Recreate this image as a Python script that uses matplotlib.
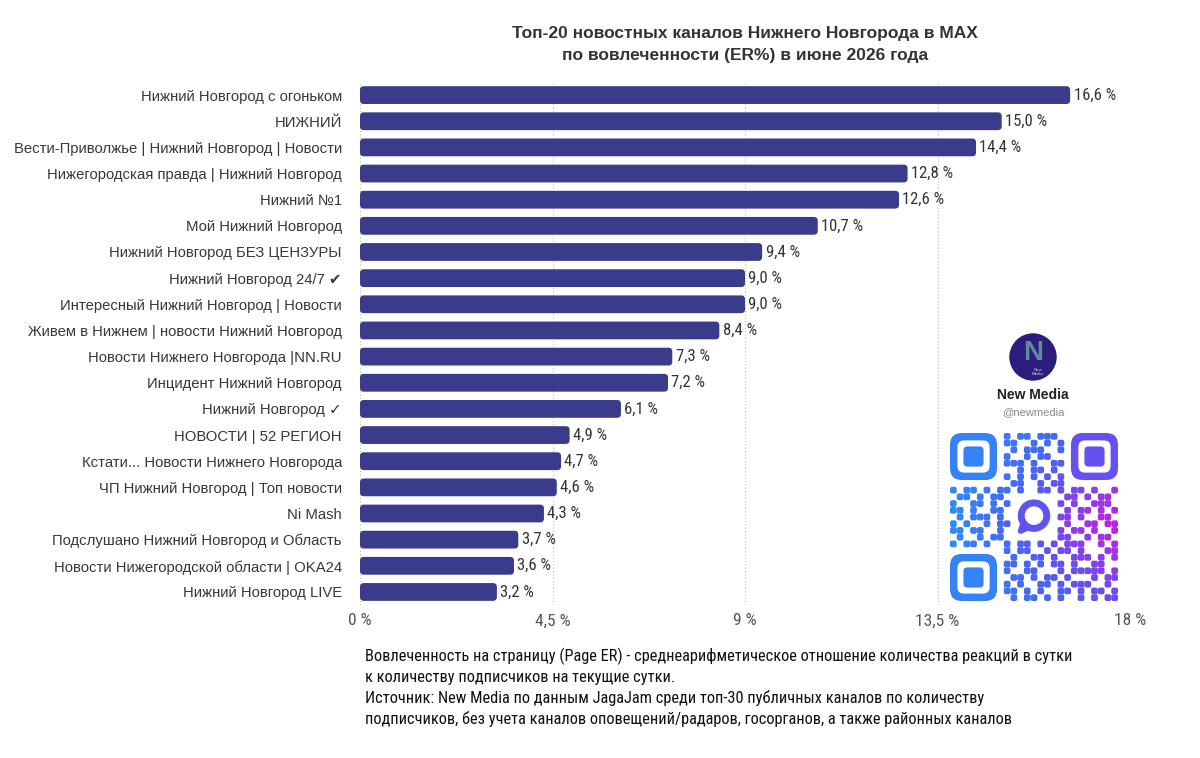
import matplotlib
matplotlib.use("Agg")
import matplotlib.pyplot as plt
from matplotlib.patches import FancyBboxPatch, Circle
from matplotlib.colors import LinearSegmentedColormap
from matplotlib import font_manager

# ---------------- data ----------------
channels = [
    "Нижний Новгород с огоньком",
    "НИЖНИЙ",
    "Вести-Приволжье | Нижний Новгород | Новости",
    "Нижегородская правда | Нижний Новгород",
    "Нижний №1",
    "Мой Нижний Новгород",
    "Нижний Новгород БЕЗ ЦЕНЗУРЫ",
    "Нижний Новгород 24/7 ✔",
    "Интересный Нижний Новгород | Новости",
    "Живем в Нижнем | новости Нижний Новгород",
    "Новости Нижнего Новгорода |NN.RU",
    "Инцидент Нижний Новгород",
    "Нижний Новгород ✓",
    "НОВОСТИ | 52 РЕГИОН",
    "Кстати... Новости Нижнего Новгорода",
    "ЧП Нижний Новгород | Топ новости",
    "Ni Mash",
    "Подслушано Нижний Новгород и Область",
    "Новости Нижегородской области | OKA24",
    "Нижний Новгород LIVE",
]
er_values = [16.6, 15.0, 14.4, 12.8, 12.6, 10.7, 9.4, 9.0, 9.0, 8.4,
             7.3, 7.2, 6.1, 4.9, 4.7, 4.6, 4.3, 3.7, 3.6, 3.2]
x_ticks = [0, 4.5, 9, 13.5, 18]
x_tick_labels = ["0 %", "4,5 %", "9 %", "13,5 %", "18 %"]

title = ("Топ-20 новостных каналов Нижнего Новгорода в MAX\n"
         "по вовлеченности (ER%) в июне 2026 года")
footnote = ("Вовлеченность на страницу (Page ER) - среднеарифметическое отношение количества реакций в сутки\n"
            "к количеству подписчиков на текущие сутки.\n"
            "Источник: New Media по данным JagaJam среди топ-30 публичных каналов по количеству\n"
            "подписчиков, без учета каналов оповещений/радаров, госорганов, а также районных каналов")

# ---------------- fonts ----------------
installed = {f.name for f in font_manager.fontManager.ttflist}
narrow = "Roboto"
for cand in ["Roboto Condensed", "Liberation Sans Narrow", "Open Sans Condensed"]:
    if cand in installed:
        narrow = cand
        break
plt.rcParams['font.family'] = ['Liberation Sans', 'DejaVu Sans']

BAR = "#3b3b8c"
TXT = "#333333"

fig = plt.figure(figsize=(12, 7.58), dpi=100)
fig.patch.set_facecolor("white")
ax = fig.add_axes([0.3, 0.2018, 0.6417, 0.69])

n = len(channels)
ypos = list(range(n))
bh = 0.68
ax.set_xlim(0, 18)
ax.set_ylim(n - 0.5, -0.5)

# rounded bars
px_per_x = 770 / 18.0
px_per_y = 523 / n
aspect = px_per_x / px_per_y
bars = ax.barh(ypos, er_values, height=bh, color="none")
for rect in bars:
    x0, y0 = rect.get_x(), rect.get_y()
    w, h = rect.get_width(), rect.get_height()
    p = FancyBboxPatch((x0, y0), w, h,
                       boxstyle="round,pad=0,rounding_size=0.09",
                       mutation_aspect=aspect,
                       facecolor=BAR, edgecolor="none", zorder=3)
    ax.add_patch(p)

for y, v in zip(ypos, er_values):
    ax.text(v + 0.08, y, f"{v:.1f}".replace(".", ",") + " %",
            va="center", ha="left", fontsize=12, color=TXT,
            family=[narrow, 'DejaVu Sans'], zorder=4)

ax.set_yticks(ypos)
ax.set_yticklabels(channels, fontsize=10.7, color="#383838",
                   family=['Liberation Sans', 'DejaVu Sans'])
ax.tick_params(axis="y", length=0, pad=13)
ax.set_xticks(x_ticks)
ax.set_xticklabels(x_tick_labels, fontsize=12.5, color="#555555",
                   family=[narrow, 'DejaVu Sans'])
ax.tick_params(axis="x", length=0, pad=6)
for s in ax.spines.values():
    s.set_visible(False)
ax.grid(axis="x", linestyle=(0, (1, 2)), color="#bbbbbb", linewidth=0.8, zorder=0)
ax.set_axisbelow(True)

fig.text(745 / 1200, 1 - 44.5 / 758, title, ha="center", va="center",
         fontsize=12.5, fontweight="bold", color=TXT, linespacing=1.6)

fig.text(365 / 1200, 1 - 648 / 758, footnote, ha="left", va="top",
         fontsize=11.8, color="#111111", linespacing=1.39,
         family=[narrow, 'DejaVu Sans'])

# ---------------- logo ----------------
lax = fig.add_axes([1008 / 1200, 1 - 382 / 758, 50 / 1200, 50 / 758])
lax.set_xlim(0, 1); lax.set_ylim(0, 1); lax.axis("off")
lax.add_patch(Circle((0.5, 0.5), 0.46, color="#2b1c7e", transform=lax.transAxes))
lax.text(0.5, 0.58, "N", ha="center", va="center", fontsize=20, fontweight="bold",
         color="#5e8c9c", transform=lax.transAxes)
lax.text(0.6, 0.2, "New\nMedia", ha="center", va="center", fontsize=3.2,
         color="#cfd6f0", linespacing=1.0, transform=lax.transAxes)

fig.text(1033 / 1200, 1 - 395 / 758, "New Media", ha="center", va="center",
         fontsize=10, fontweight="bold", color="#222222")
fig.text(1033 / 1200, 1 - 412 / 758, "@newmedia", ha="center", va="center",
         fontsize=8, color="#888888")

# ---------------- QR code (decorative) ----------------
qr_rows = [
    "........" + "#.##.###." + "........",
    "........" + "##..#.#.#" + "........",
    "........" + ".#.###..#" + "........",
    "........" + "#..#.##.." + "........",
    "........" + "###.#..##" + "........",
    "........" + "..#.##.#." + "........",
    "........" + "#.#.#.#.#" + "........",
    "........" + ".##..#.##" + "........",
    "#.##.#.##.#..##.#.##.#..#",
    ".##.#.##." + "......." + ".##.#.##.",
    "#..##.#.#" + "......." + "#.#..###.",
    "##.#..##." + "......." + ".#.##.#.#",
    ".#.###.#." + "......." + "##.#..##.",
    "#.#..#.##" + "......." + ".#..##.##",
    "##.##..#." + "......." + "#.##.#..#",
    ".#..#.##." + "......." + "##..#.##.",
    "#.##.#..#.##.#.#.###..#.#",
    "........" + "#.##..#.##.#...##",
    "........" + ".#..##.#..###.#.#",
    "........" + "##.#.#.##.#..##..",
    "........" + "#..##...#.#####.#",
    "........" + ".##.#.##.#...#.##",
    "........" + "#.#..##.#.###..#.",
    "........" + "##.#.#..##.#.##.#",
    "........" + ".#.##.#.#..#.#.##",
]
N = 25
cmap = LinearSegmentedColormap.from_list(
    "qr", [(0.0, "#2f8af7"), (0.35, "#4a63f2"), (0.55, "#6c4cef"),
           (0.8, "#9d35e6"), (1.0, "#c41fe0")])

def qcol(c, r):
    t = c / (N - 1) * (1 - 0.5 * abs(r - 13) / 12)
    return cmap(min(max(t, 0), 1))

qax = fig.add_axes([950 / 1200, 1 - 601 / 758, 168 / 1200, 168 / 758])
qax.set_xlim(0, N); qax.set_ylim(N, 0); qax.axis("off")
for r, row in enumerate(qr_rows):
    for c, ch in enumerate(row):
        if ch == "#":
            qax.add_patch(FancyBboxPatch((c, r), 1.0, 1.0,
                          boxstyle="round,pad=0,rounding_size=0.3",
                          facecolor=qcol(c, r), edgecolor="none"))

for (fc, fr) in [(0, 0), (18, 0), (0, 18)]:
    col = qcol(fc + 3, fr + 3)
    qax.add_patch(FancyBboxPatch((fc, fr), 7, 7, boxstyle="round,pad=0,rounding_size=1.8",
                                 facecolor=col, edgecolor="none"))
    qax.add_patch(FancyBboxPatch((fc + 1.1, fr + 1.1), 4.8, 4.8, boxstyle="round,pad=0,rounding_size=1.0",
                                 facecolor="white", edgecolor="none"))
    qax.add_patch(FancyBboxPatch((fc + 2, fr + 2), 3, 3, boxstyle="round,pad=0,rounding_size=0.6",
                                 facecolor=col, edgecolor="none"))

bcol = qcol(12, 12)
qax.add_patch(Circle((12.5, 12.3), 1.9, facecolor="none", edgecolor=bcol, linewidth=5))
qax.plot([10.9, 10.5, 11.6], [13.4, 14.6, 14.1], color=bcol, linewidth=4,
         solid_capstyle="round", solid_joinstyle="round")

fig.savefig("out.png", dpi=100, facecolor="white")
